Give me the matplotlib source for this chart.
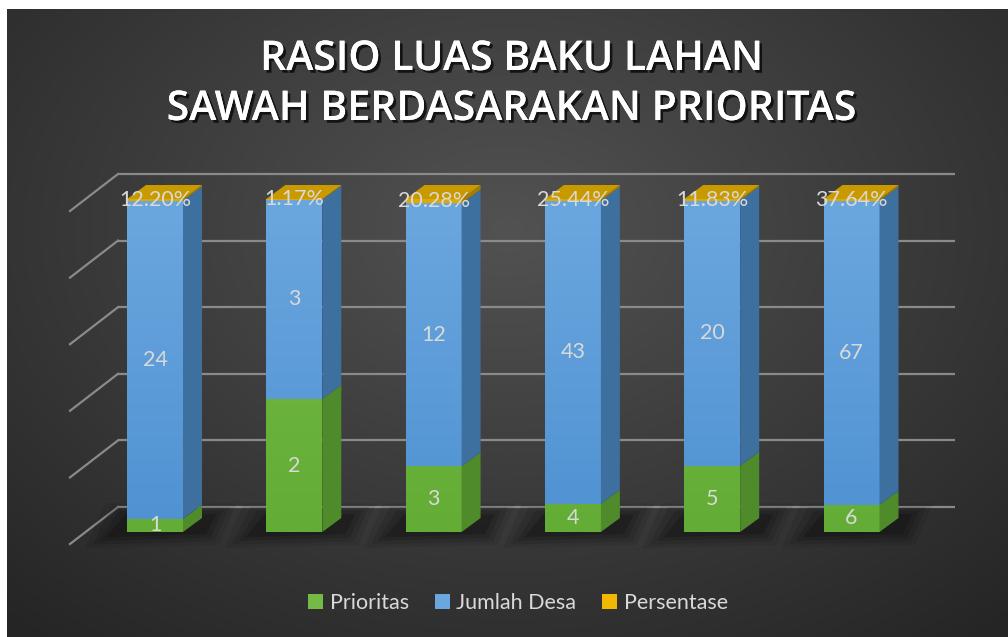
import numpy as np
import matplotlib
matplotlib.use("Agg")
import matplotlib.pyplot as plt
from matplotlib.patches import Polygon, Patch
import matplotlib.patheffects as pe

# ---------------- data ----------------
categories = ["1", "2", "3", "4", "5", "6"]
prioritas = [1, 2, 3, 4, 5, 6]
jumlah_desa = [24, 3, 12, 43, 20, 67]
persentase = [12.20, 1.17, 20.28, 25.44, 11.83, 37.64]   # percent values
persentase_labels = ["12.20%", "1.17%", "20.28%", "25.44%", "11.83%", "37.64%"]
series_names = ["Prioritas", "Jumlah Desa", "Persentase"]

title_lines = ["RASIO LUAS BAKU LAHAN", "SAWAH BERDASARAKAN PRIORITAS"]

# ---------------- style ----------------
W, H = 1008, 637
front_top = ["#74ba45", "#6ba7df", "#e0aa00"]
front_bot = ["#63ad36", "#4f92d2", "#e0aa00"]
side_cols = ["#4f8a2b", "#3d6f9f", "#a67d00"]
top_col = "#c99a00"
text_col = "#d9d9d9"
grid_col = "#8a8a8a"

plt.rcParams["font.family"] = ["Lato", "DejaVu Sans"]

fig = plt.figure(figsize=(W / 100, H / 100), dpi=100)
fig.patch.set_facecolor("white")

# background with radial gradient
bg = fig.add_axes([7 / W, 0, 1 - 7 / W, 1 - 9 / H])
bg.set_axis_off()
yy, xx = np.mgrid[0:1:300j, 0:1:470j]
r = np.sqrt(((xx - 0.5) / 0.75) ** 2 + ((yy - 0.35) / 0.85) ** 2)
r = np.clip(r, 0, 1)
c0 = np.array([0x52, 0x52, 0x52]) / 255
c1 = np.array([0x25, 0x25, 0x25]) / 255
img = c0[None, None, :] * (1 - r[..., None]) + c1[None, None, :] * r[..., None]
bg.imshow(img, aspect="auto", extent=[0, 1, 0, 1], origin="upper")
bg.set_xlim(0, 1)
bg.set_ylim(0, 1)

# main axes: x in category units, y in percent (100% stacked)
ax = fig.add_axes([0, 0, 1, 1])
ax.set_axis_off()
ax.patch.set_alpha(0)
px_per_cat = 139.3
x0_px = 155.0
base_px = 532.0
px_per_pct = 3.33

# 3D geometry (in data units)
bar_w = 56 / px_per_cat
ddx = 19 / px_per_cat
ddy = 14 / px_per_pct
wall_back_dx_left = (118 - x0_px) / px_per_cat
wall_back_dx_right = (955 - x0_px) / px_per_cat
wall_back_dy = 25 / px_per_pct
wall_front_x = (70 - x0_px) / px_per_cat
wall_front_dy = -12 / px_per_pct

# gridlines on back wall and left wall
for p in range(0, 101, 20):
    ax.plot([wall_back_dx_left, wall_back_dx_right], [p + wall_back_dy] * 2,
            color=grid_col, lw=1.6, zorder=1, solid_capstyle="butt")
    ax.plot([wall_front_x, wall_back_dx_left], [p + wall_front_dy, p + wall_back_dy],
            color=grid_col, lw=1.6, zorder=1)

# bars
xs = np.arange(len(categories))
vals = np.array([prioritas, jumlah_desa, np.array(persentase) / 100.0], dtype=float)
tot = vals.sum(axis=0)
fr = vals / tot * 100

def hex2rgb(h):
    h = h.lstrip("#")
    return np.array([int(h[k:k + 2], 16) for k in (0, 2, 4)]) / 255.0

for i, x in enumerate(xs):
    xl = x - bar_w / 2
    xr = x + bar_w / 2
    # shadow on floor
    for k, a in enumerate([0.08, 0.10, 0.13, 0.18]):
        g = (4 - k) * 0.05
        gy = (4 - k) * 1.1
        shp = Polygon([(xl - g - 0.1, -gy - 0.5), (xr + ddx + g * 0.6, -gy + 0.5),
                       (xr + ddx + g + 0.05, ddy + gy), (xl + ddx - g - 0.1, ddy + gy)],
                      closed=True, facecolor="black", edgecolor="none", alpha=a, zorder=2)
        ax.add_patch(shp)
    bottom = 0.0
    for s in range(3):
        h = fr[s, i]
        y0, y1 = bottom, bottom + h
        ct, cb = hex2rgb(front_top[s]), hex2rgb(front_bot[s])
        tt = np.linspace(0, 1, 64)[:, None]
        fy0, fy1 = y0 / 100, y1 / 100
        f = fy1 - (fy1 - fy0) * tt
        grad = cb[None, :] * (1 - f) + ct[None, :] * f
        ax.imshow(grad[:, None, :], extent=[xl, xr, y0, y1], aspect="auto",
                  origin="upper", zorder=4, interpolation="bilinear")
        ax.add_patch(Polygon([(xr, y0), (xr + ddx, y0 + ddy), (xr + ddx, y1 + ddy), (xr, y1)],
                             closed=True, facecolor=side_cols[s], edgecolor="none", zorder=4))
        bottom = y1
    ax.add_patch(Polygon([(xl, 100), (xr, 100), (xr + ddx, 100 + ddy), (xl + ddx, 100 + ddy)],
                         closed=True, facecolor=top_col, edgecolor="none", zorder=4))
    # labels
    c_g = fr[0, i] / 2
    c_b = fr[0, i] + fr[1, i] / 2
    c_y = fr[0, i] + fr[1, i] + fr[2, i] / 2
    for lab, yc in [(str(prioritas[i]), c_g), (str(jumlah_desa[i]), c_b),
                    (persentase_labels[i], c_y)]:
        ax.text(x, yc, lab, color=text_col, fontsize=15.5, ha="center",
                va="center", zorder=6)

ax.set_xlim((0 - x0_px) / px_per_cat, (W - x0_px) / px_per_cat)
ax.set_ylim(-(H - base_px) / px_per_pct, base_px / px_per_pct)
ax.set_aspect("auto")

# title
for k, line in enumerate(title_lines):
    fig.text(512 / W, 1 - (59 + 50 * k) / H, line, ha="center", va="center",
             color="white", fontsize=29.5, fontweight="semibold",
             family=["Open Sans", "DejaVu Sans"],
             path_effects=[pe.withSimplePatchShadow(offset=(2, -2), shadow_rgbFace="black",
                                                    alpha=0.7), pe.Normal()])

# legend
handles = [Patch(facecolor=front_top[0]), Patch(facecolor=front_top[1]),
           Patch(facecolor="#f0b800")]
leg = fig.legend(handles, series_names, loc="center", bbox_to_anchor=(518 / W, 1 - 603 / H),
                 ncol=3, frameon=False, fontsize=15.5, labelcolor=text_col,
                 handlelength=0.7, handleheight=0.7, handletextpad=0.3,
                 columnspacing=1.2)

fig.savefig("out.png", dpi=100, facecolor=fig.get_facecolor())
